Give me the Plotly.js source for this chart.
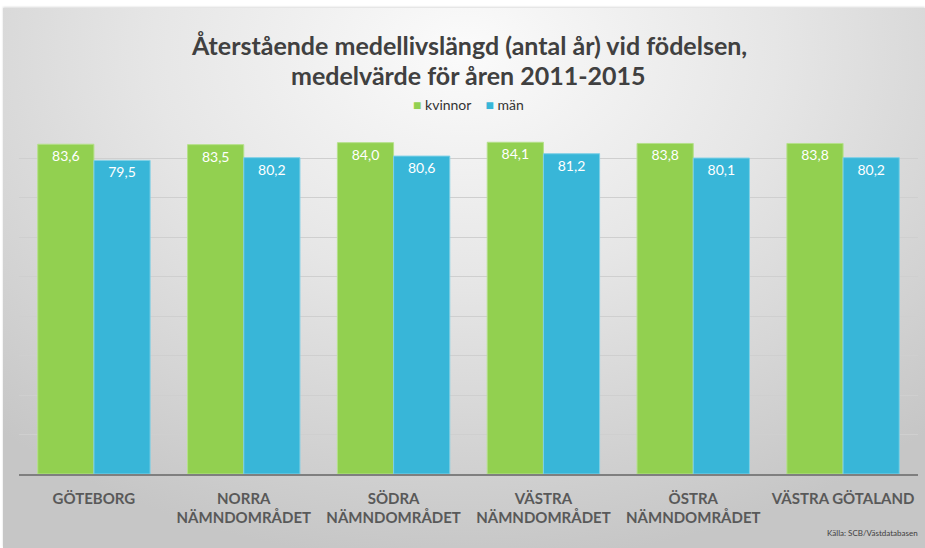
<!DOCTYPE html>
<html>
<head>
<meta charset="utf-8">
<script src="https://cdn.plot.ly/plotly-3.0.1.min.js"></script>
<style>
  html, body { margin:0; padding:0; background:#ffffff; }
  #wrap { position:absolute; left:0; top:0; width:925px; height:548px; }
  #bg { position:absolute; left:3px; top:8px; width:922px; height:540px;
        background: radial-gradient(ellipse 75% 95% at 50% 8%, #fbfbfb 0%, #e6e6e6 45%, #c6c6c6 100%);
        box-shadow: 0 -1px 2px rgba(0,0,0,0.15); }
  #chart { position:absolute; left:0; top:0; width:925px; height:548px; }
</style>
</head>
<body>
<div id="wrap"><div id="bg"></div><div id="chart"></div></div>
<script>
const categories = ["GÖTEBORG", "NORRA<br>NÄMNDOMRÅDET", "SÖDRA<br>NÄMNDOMRÅDET", "VÄSTRA<br>NÄMNDOMRÅDET", "ÖSTRA<br>NÄMNDOMRÅDET", "VÄSTRA GÖTALAND"];
const kvinnor = [83.6, 83.5, 84.0, 84.1, 83.8, 83.8];
const man = [79.5, 80.2, 80.6, 81.2, 80.1, 80.2];
const seriesNames = ["kvinnor", "män"];
const seriesColors = ["#92D050", "#38B6D8"];

const FF = "Lato, 'Open Sans', sans-serif";
const labelFont = {family: FF, size: 14, color: "#ffffff"};
const traces = [
  {type: "bar", name: seriesNames[0], x: categories, y: kvinnor,
   marker: {color: seriesColors[0], line: {color: "#b5e08a", width: 1}},
   texttemplate: "%{y:.1f}", textposition: "inside", insidetextanchor: "end",
   textangle: 0, textfont: labelFont, hoverinfo: "none"},
  {type: "bar", name: seriesNames[1], x: categories, y: man,
   marker: {color: seriesColors[1], line: {color: "#7fd0e6", width: 1}},
   texttemplate: "%{y:.1f}", textposition: "inside", insidetextanchor: "end",
   textangle: 0, textfont: labelFont, hoverinfo: "none"}
];

const legendText = '<span style="color:' + seriesColors[0] + '">■</span> ' + seriesNames[0] +
  '    <span style="color:' + seriesColors[1] + '">■</span> ' + seriesNames[1];

const layout = {
  width: 925, height: 548,
  paper_bgcolor: "rgba(0,0,0,0)", plot_bgcolor: "rgba(0,0,0,0)",
  separators: ",.",
  margin: {l: 19, r: 7, t: 119, b: 74},
  font: {family: FF, color: "#404040"},
  barmode: "group", bargap: 0.25, bargroupgap: 0,
  showlegend: false,
  xaxis: {showline: true, linecolor: "#7f7f7f", linewidth: 1.5, ticks: "outside", ticklen: 10,
          tickcolor: "rgba(0,0,0,0)", showgrid: false,
          tickfont: {family: FF, size: 15, color: "#595959", weight: "bold"}},
  yaxis: {range: [0, 90], dtick: 10, showticklabels: false, showgrid: true,
          gridcolor: "#cfcfcf", gridwidth: 1, zeroline: false, showline: false, fixedrange: true},
  annotations: [
    {text: "<b>Återstående medellivslängd (antal år) vid födelsen,</b>", xref: "paper", yref: "paper",
     x: 0.5, y: (474 - 45) / 355, xanchor: "center", yanchor: "middle", showarrow: false,
     font: {family: FF, size: 25, color: "#404040"}},
    {text: "<b>medelvärde för åren 2011-2015</b>", xref: "paper", yref: "paper",
     x: 0.5, y: (474 - 75) / 355, xanchor: "center", yanchor: "middle", showarrow: false,
     font: {family: FF, size: 25, color: "#404040"}},
    {text: legendText, xref: "paper", yref: "paper",
     x: 0.5, y: (474 - 104) / 355, xanchor: "center", yanchor: "middle", showarrow: false,
     font: {family: FF, size: 14, color: "#333333"}},
    {text: "Källa: SCB/Västdatabasen", xref: "paper", yref: "paper",
     x: 1.002, y: -0.165, xanchor: "right", yanchor: "middle", showarrow: false,
     font: {family: FF, size: 8, color: "#404040"}}
  ]
};

Plotly.newPlot("chart", traces, layout, {displayModeBar: false, staticPlot: true});
</script>
</body>
</html>
